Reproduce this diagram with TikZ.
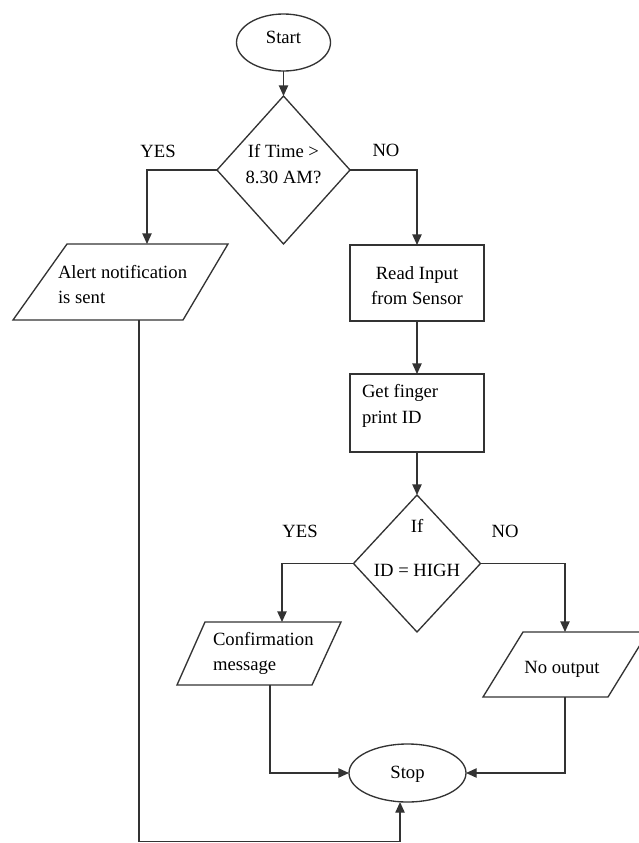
\documentclass[tikz,border=0pt]{standalone}
\usepackage{fontspec}
\setmainfont{Liberation Serif}
\usetikzlibrary{shapes.geometric,arrows.meta}
\begin{document}
\begin{tikzpicture}[x=0.75pt,y=-0.75pt,
  font=\fontsize{14}{19}\selectfont,
  every node/.style={inner sep=0pt, outer sep=0pt},
  ln/.style={draw=black!80, line width=1pt, line join=miter},
  arr/.style={ln, -{Triangle[length=8pt,width=7pt]}},
  term/.style={ln, ellipse},
  dec/.style={ln, diamond},
  proc/.style={ln, rectangle},
  txt/.style={align=center},
  ltxt/.style={align=left, anchor=west}]
\useasboundingbox (0,0) rectangle (639,843);
\clip (0,0) rectangle (639,843);

% shapes
\node[term, minimum width=70.5pt, minimum height=42.75pt] (start) at (283.5,42.5) {};
\node[txt] (tstart) at (283.5,37.5) {Start};

\node[dec, minimum width=99.75pt, minimum height=111pt] (d1) at (283.5,170) {};
\node[txt] (td1) at (283.5,164) {If Time >\\8.30 AM?};

% input/output parallelograms
\draw[ln] (67,244) -- (228,244) -- (183,320) -- (13,320) -- cycle;
\coordinate (p1t) at (147,244);
\coordinate (p1b) at (139,320);
\node[ltxt] (tp1) at (58,284.7) {Alert notification\\is sent};

\node[proc, minimum width=100.5pt, minimum height=57pt] (b1) at (417,283) {};
\node[txt] (tb1) at (417,285.7) {Read Input\\from Sensor};

\node[proc, minimum width=100.5pt, minimum height=58.5pt] (b2) at (417,413) {};
\node[ltxt] (tb2) at (362,406) {Get finger\\print ID};

\node[dec, minimum width=95.25pt, minimum height=102.75pt] (d2) at (417,563.5) {};
\node[txt] (td2a) at (417,525.5) {If};
\node[txt] (td2b) at (417,570) {ID = HIGH};

\draw[ln] (205,622) -- (341,622) -- (312,685) -- (177,685) -- cycle;
\coordinate (p2t) at (282,622);
\coordinate (p2b) at (270,685);
\node[ltxt] (tp2) at (213,653.7) {Confirmation\\message};

\draw[ln] (523,632) -- (648,632) -- (608,697) -- (483,697) -- cycle;
\coordinate (p3t) at (565,632);
\coordinate (p3b) at (565,697);
\node[txt] (tp3) at (562,669) {No output};

\node[term, minimum width=87.75pt, minimum height=43.5pt] (stop) at (407.5,773) {};
\node[txt] (tstop) at (407.5,774) {Stop};

% branch labels
\node[txt] (yes1) at (158,151) {YES};
\node[txt] (no1) at (386,150) {NO};
\node[txt] (yes2) at (300,531) {YES};
\node[txt] (no2) at (505,531) {NO};

% connectors
\draw[arr] (start.south) -- (d1.north);
\draw[arr] (d1.west) -| (p1t);
\draw[arr] (d1.east) -| (b1.north);
\draw[arr] (b1.south) -- (b2.north);
\draw[arr] (b2.south) -- (d2.north);
\draw[arr] (d2.west) -| (p2t);
\draw[arr] (d2.east) -| (p3t);
\draw[arr] (p2b) |- (stop.west);
\draw[arr] (p3b) |- (stop.east);
\coordinate (c1) at (139,841.5);
\draw[arr] (p1b) -- (c1) -| ([xshift=-5.6pt]stop.south);
\end{tikzpicture}
\end{document}
